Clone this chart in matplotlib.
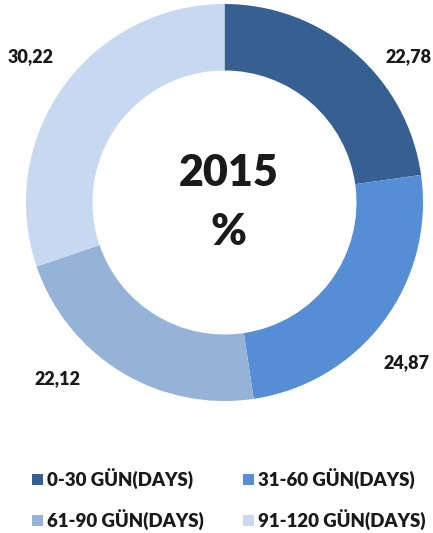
import numpy as np
import matplotlib
matplotlib.use("Agg")
import matplotlib.pyplot as plt
from matplotlib.patches import Rectangle

categories = ["0-30 GÜN(DAYS)", "31-60 GÜN(DAYS)", "61-90 GÜN(DAYS)", "91-120 GÜN(DAYS)"]
values = [22.78, 24.87, 22.12, 30.22]
value_labels = ["22,78", "24,87", "22,12", "30,22"]
colors = ["#376092", "#558ED5", "#95B3D7", "#C6D9F1"]
center_title = "2015"
center_unit = "%"

W, H = 433, 533
fig = plt.figure(figsize=(W / 100, H / 100), dpi=100)
ax = fig.add_axes([0, 0, 1, 1])
ax.set_xlim(0, W)
ax.set_ylim(0, H)
ax.set_aspect("equal")
ax.axis("off")

cx, cy = 224.5, H - 202.5
R = 198.5
ring = 0.335

wedges, _ = ax.pie(values, colors=colors, startangle=90, counterclock=False,
                   radius=R, center=(cx, cy),
                   wedgeprops=dict(width=R * ring, linewidth=0))
ax.set_xlim(0, W)
ax.set_ylim(0, H)

font = "Lato"
wt = "heavy"
# data labels outside ends
angle_nudge = [-10.7, -4.7, -12.0, -1.4]
radius_factor = [1.184, 1.221, 1.222, 1.22]
for w, lab, nud, rf in zip(wedges, value_labels, angle_nudge, radius_factor):
    mid = (w.theta1 + w.theta2) / 2 + nud
    x = cx + rf * R * np.cos(np.radians(mid))
    y = cy + rf * R * np.sin(np.radians(mid))
    ax.text(x, y, lab, ha="center", va="center", fontsize=13,
            fontweight=wt, family=font, color="#1a1a1a")

ax.text(cx + 4, H - 173, center_title, ha="center", va="center", fontsize=31,
        fontweight=wt, family=font, color="#1a1a1a")
ax.text(cx + 4, H - 232, center_unit, ha="center", va="center", fontsize=31,
        fontweight=wt, family=font, color="#1a1a1a")

# legend
col_x = [32, 243]
row_y = [H - 479, H - 520]
sq = 11
for i, (cat, col) in enumerate(zip(categories, colors)):
    x0 = col_x[i % 2]
    y0 = row_y[i // 2]
    ax.add_patch(Rectangle((x0, y0 - sq / 2), sq, sq, facecolor=col, edgecolor="none"))
    ax.text(x0 + sq + 4, y0, cat, ha="left", va="center", fontsize=13.4,
            fontweight=wt, family=font, color="#1a1a1a")

fig.savefig("out.png", dpi=100)
